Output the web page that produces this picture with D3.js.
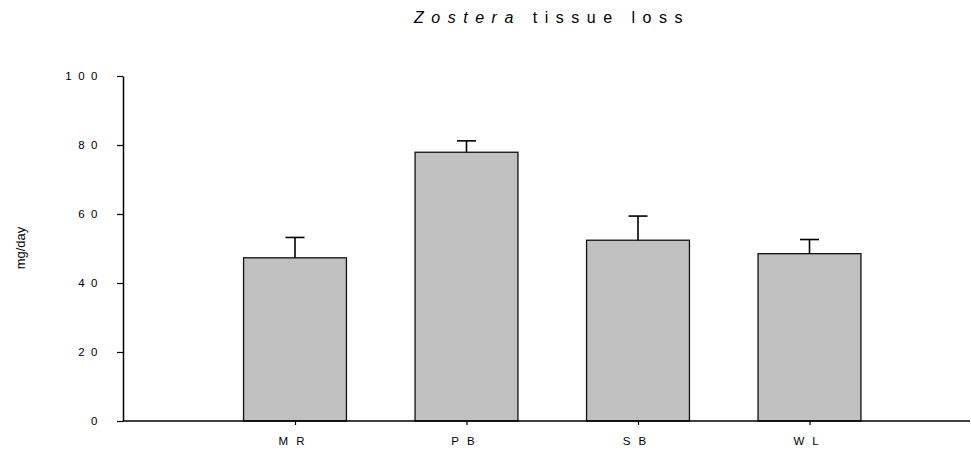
<!DOCTYPE html>
<html>
<head>
<meta charset="utf-8">
<script src="https://cdn.jsdelivr.net/npm/d3@7"></script>
<style>
  body { margin: 0; background: #fff; }
  text { font-family: "Liberation Sans", Arial, sans-serif; fill: #000; }
</style>
</head>
<body>
<svg width="971" height="450"></svg>
<script>
// data
var sites = ["MR", "PB", "SB", "WL"];
var means = [47.3, 77.9, 52.4, 48.5];
var errs = [5.9, 3.3, 7.0, 4.1];
var yTicks = [0, 20, 40, 60, 80, 100];

var svg = d3.select("svg"),
    width = +svg.attr("width"),
    height = +svg.attr("height");

var plotLeft = 123, plotRight = 970, plotTop = 76, plotBottom = 421;

// category centres and value scale
var x = d3.scalePoint().domain(sites).range([295, 809.5]);
var barW = x.step() * 0.6;
var y = d3.scaleLinear().domain([0, 100]).range([plotBottom, plotTop]);

// bars
svg.append("g")
    .selectAll("rect")
    .data(sites)
    .enter()
    .append("rect")
    .attr("x", (d) => x(d) - barW / 2)
    .attr("y", (d, i) => y(means[i]))
    .attr("width", barW)
    .attr("height", (d, i) => y(0) - y(means[i]))
    .attr("fill", "#c0c0c0")
    .attr("stroke", "#111")
    .attr("stroke-width", 1.3);

// error bars (upper only)
var eb = svg.append("g").attr("stroke", "#000").attr("stroke-width", 1.6);
sites.forEach(function (s, i) {
    eb.append("line")
        .attr("x1", x(s)).attr("x2", x(s))
        .attr("y1", y(means[i])).attr("y2", y(means[i] + errs[i]));
    eb.append("line")
        .attr("x1", x(s) - 9.5).attr("x2", x(s) + 9.5)
        .attr("y1", y(means[i] + errs[i])).attr("y2", y(means[i] + errs[i]));
});

// y axis
var yAxis = svg.append("g")
    .attr("transform", "translate(" + plotLeft + ",0)")
    .call(d3.axisLeft(y).tickValues(yTicks).tickSize(6).tickPadding(13).tickSizeOuter(0));
yAxis.select(".domain").attr("stroke", "#000").attr("stroke-width", 1.5);
yAxis.selectAll(".tick line").attr("stroke-width", 1.2);
yAxis.selectAll("text")
    .attr("font-size", 11.5)
    .style("letter-spacing", "6.5px")
    .attr("font-family", null);

// x axis
svg.append("line")
    .attr("x1", plotLeft).attr("x2", plotRight)
    .attr("y1", y(0)).attr("y2", y(0))
    .attr("stroke", "#000").attr("stroke-width", 1.5);
var xAxis = svg.append("g")
    .attr("transform", "translate(0," + y(0) + ")")
    .call(d3.axisBottom(x).tickSize(4).tickPadding(12).tickSizeOuter(0));
xAxis.select(".domain").remove();
xAxis.selectAll(".tick line").attr("stroke-width", 1.2);
xAxis.selectAll("text")
    .attr("font-size", 11.5)
    .attr("font-family", null)
    .style("letter-spacing", "8px");

// y label
svg.append("text")
    .attr("transform", "translate(25,248) rotate(-90)")
    .attr("text-anchor", "middle")
    .attr("font-size", 13)
    .text("mg/day");

// title
var title = svg.append("text")
    .attr("x", 552)
    .attr("y", 23)
    .attr("text-anchor", "middle")
    .attr("font-size", 16)
    .style("letter-spacing", "7.5px");
title.append("tspan").attr("font-style", "italic").text("Zostera");
title.append("tspan").text(" tissue loss");
</script>
</body>
</html>
